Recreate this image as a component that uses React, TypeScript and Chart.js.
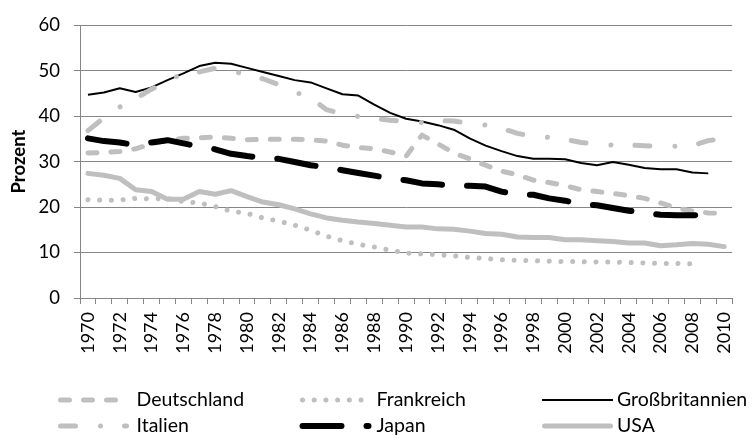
import { useEffect, useRef } from "react";
import { Chart, registerables } from "chart.js";

Chart.register(...registerables);

const years = [
  "1970", "1971", "1972", "1973", "1974", "1975", "1976", "1977", "1978", "1979",
  "1980", "1981", "1982", "1983", "1984", "1985", "1986", "1987", "1988", "1989",
  "1990", "1991", "1992", "1993", "1994", "1995", "1996", "1997", "1998", "1999",
  "2000", "2001", "2002", "2003", "2004", "2005", "2006", "2007", "2008", "2009",
  "2010",
];

const deutschland = [
  31.9, 32.0, 32.2, 32.8, 33.9, 34.7, 35.1, 35.2, 35.4, 35.1,
  34.8, 34.9, 34.9, 34.9, 34.8, 34.5, 33.6, 33.1, 32.8, 32.1,
  31.2, 35.8, 33.9, 31.9, 30.6, 29.2, 27.9, 27.1, 25.9, 25.4,
  24.7, 23.8, 23.4, 23.0, 22.5, 21.9, 20.9, 19.8, 19.1, 18.7,
  18.6,
];

const frankreich = [
  21.6, 21.5, 21.5, 21.9, 21.8, 21.9, 21.2, 20.9, 20.1, 19.1,
  18.6, 17.6, 16.9, 16.0, 14.9, 13.6, 12.6, 11.8, 11.2, 10.5,
  9.9, 9.7, 9.5, 9.3, 8.9, 8.7, 8.4, 8.3, 8.2, 8.1,
  8.0, 8.0, 7.9, 7.9, 7.8, 7.7, 7.6, 7.6, 7.5, null,
  null,
];

const grossbritannien = [
  44.7, 45.2, 46.1, 45.3, 46.3, 47.9, 49.4, 51.0, 51.7, 51.5,
  50.6, 49.7, 48.8, 47.9, 47.4, 46.1, 44.8, 44.5, 42.5, 40.7,
  39.4, 38.8, 38.0, 37.0, 35.1, 33.5, 32.3, 31.2, 30.6, 30.6,
  30.5, 29.7, 29.2, 29.9, 29.3, 28.6, 28.3, 28.3, 27.6, 27.4,
  null,
];

const italien = [
  36.8, 39.6, 42.0, 43.8, 45.9, 47.6, 49.5, 49.7, 50.5, 50.0,
  49.0, 48.2, 46.9, 45.3, 44.0, 41.4, 40.5, 39.9, 39.5, 39.1,
  38.8, 38.6, 39.0, 38.9, 38.4, 38.0, 37.3, 36.2, 35.5, 35.3,
  34.9, 34.2, 33.8, 33.6, 33.6, 33.5, 33.3, 33.4, 33.5, 34.6,
  35.1,
];

const japan = [
  35.1, 34.5, 34.2, 33.6, 34.2, 34.7, 34.0, 33.3, 32.7, 31.7,
  31.2, 30.8, 30.6, 29.9, 29.2, 28.7, 28.1, 27.5, 26.9, 26.3,
  25.9, 25.2, 25.0, 24.7, 24.7, 24.5, 23.4, 22.7, 22.7, 21.9,
  21.4, 20.6, 20.4, 19.8, 19.2, 18.7, 18.3, 18.2, 18.2, 18.3,
  null,
];

const usa = [
  27.4, 27.0, 26.3, 23.8, 23.4, 21.7, 21.7, 23.4, 22.8, 23.6,
  22.3, 21.1, 20.5, 19.6, 18.5, 17.6, 17.1, 16.7, 16.4, 16.0,
  15.6, 15.6, 15.2, 15.1, 14.7, 14.2, 14.0, 13.4, 13.3, 13.3,
  12.8, 12.8, 12.6, 12.4, 12.1, 12.1, 11.5, 11.7, 12.0, 11.8,
  11.3,
];

const seriesNames = ["Deutschland", "Frankreich", "Großbritannien", "Italien", "Japan", "USA"];
const yTicks = [0, 10, 20, 30, 40, 50, 60];

const GRAY = "#BFBFBF";
const AXIS = "#868686";
const FONT = "Lato";

const legendPlugin = {
  id: "customLegend",
  afterDraw(chart: any) {
    const ctx = chart.ctx;
    const colStart = [60.5, 302.5, 544.5];
    const textX = [136.5, 376.5, 617];
    const rowY = [400, 426];
    const len = 66;
    chart.data.datasets.forEach((ds: any, i: number) => {
      const col = i % 3;
      const row = Math.floor(i / 3);
      const y = rowY[row];
      const x0 = colStart[col];
      ctx.save();
      ctx.strokeStyle = ds.borderColor;
      ctx.lineWidth = ds.borderWidth;
      ctx.lineCap = ds.borderCapStyle || "butt";
      ctx.setLineDash(ds.borderDash || []);
      ctx.beginPath();
      if (ds.borderWidth <= 2) {
        ctx.moveTo(x0 - 2.5, y);
        ctx.lineTo(x0 + len + 2.5, y);
      } else {
        ctx.moveTo(x0, y);
        ctx.lineTo(x0 + len, y);
      }
      ctx.stroke();
      ctx.restore();
      ctx.save();
      ctx.fillStyle = "#000";
      ctx.font = `19.5px ${FONT}`;
      ctx.textBaseline = "middle";
      ctx.textAlign = "left";
      ctx.fillText(ds.label, textX[col], y);
      ctx.restore();
    });
  },
};

export default function App() {
  const ref = useRef<HTMLCanvasElement | null>(null);

  useEffect(() => {
    if (!ref.current) return;
    const mk = (
      idx: number,
      data: (number | null)[],
      color: string,
      width: number,
      dash: number[],
      cap: string
    ) => ({
      label: seriesNames[idx],
      data,
      borderColor: color,
      backgroundColor: color,
      borderWidth: width,
      borderDash: dash,
      borderCapStyle: cap,
      borderJoinStyle: "round",
      pointRadius: 0,
      pointHoverRadius: 0,
      tension: 0,
      fill: false,
      spanGaps: false,
      order: -idx,
    });

    const chart = new Chart(ref.current, {
      type: "line",
      data: {
        labels: years,
        datasets: [
          mk(0, deutschland, GRAY, 5, [9, 14], "round"),
          mk(1, frankreich, GRAY, 5, [0.01, 11.7], "round"),
          mk(2, grossbritannien, "#000000", 2, [], "butt"),
          mk(3, italien, GRAY, 5, [15, 25, 0.01, 24], "round"),
          mk(4, japan, "#000000", 6, [39, 25], "round"),
          mk(5, usa, GRAY, 5, [], "round"),
        ] as any,
      },
      options: {
        responsive: false,
        animation: false,
        layout: { padding: { top: 21, right: 17, left: 0, bottom: 0 } },
        plugins: {
          legend: { display: false },
          tooltip: { enabled: false },
          title: { display: false },
        },
        scales: {
          x: {
            type: "category",
            offset: true,
            grid: {
              offset: true,
              drawOnChartArea: false,
              drawTicks: true,
              tickLength: 6,
              color: AXIS,
              lineWidth: 1,
            },
            border: { color: AXIS, width: 1 },
            ticks: {
              autoSkip: false,
              minRotation: 90,
              maxRotation: 90,
              padding: 8,
              color: "#000",
              font: { family: FONT, size: 18 },
              callback: (_v: any, i: number) => (i % 2 === 0 ? years[i] : ""),
            },
            afterFit: (s: any) => {
              s.height = 140;
            },
          },
          y: {
            min: yTicks[0],
            max: yTicks[yTicks.length - 1],
            grid: {
              color: AXIS,
              lineWidth: 1,
              drawTicks: true,
              tickLength: 6,
            },
            border: { color: AXIS, width: 1 },
            ticks: {
              stepSize: 10,
              padding: 14,
              color: "#000",
              font: { family: FONT, size: 18.5 },
            },
            title: {
              display: true,
              text: "Prozent",
              color: "#000",
              font: { family: FONT, size: 18.5, weight: "bold" },
              padding: { top: 8, bottom: 0 },
            },
            afterFit: (s: any) => {
              s.width = 80;
            },
          },
        },
      },
      plugins: [legendPlugin],
    } as any);
    return () => chart.destroy();
  }, []);

  return (
    <div style={{ position: "fixed", left: 0, top: 0, width: 754, height: 438, background: "#fff" }}>
      <canvas ref={ref} width={754} height={438} style={{ display: "block" }} />
    </div>
  );
}
